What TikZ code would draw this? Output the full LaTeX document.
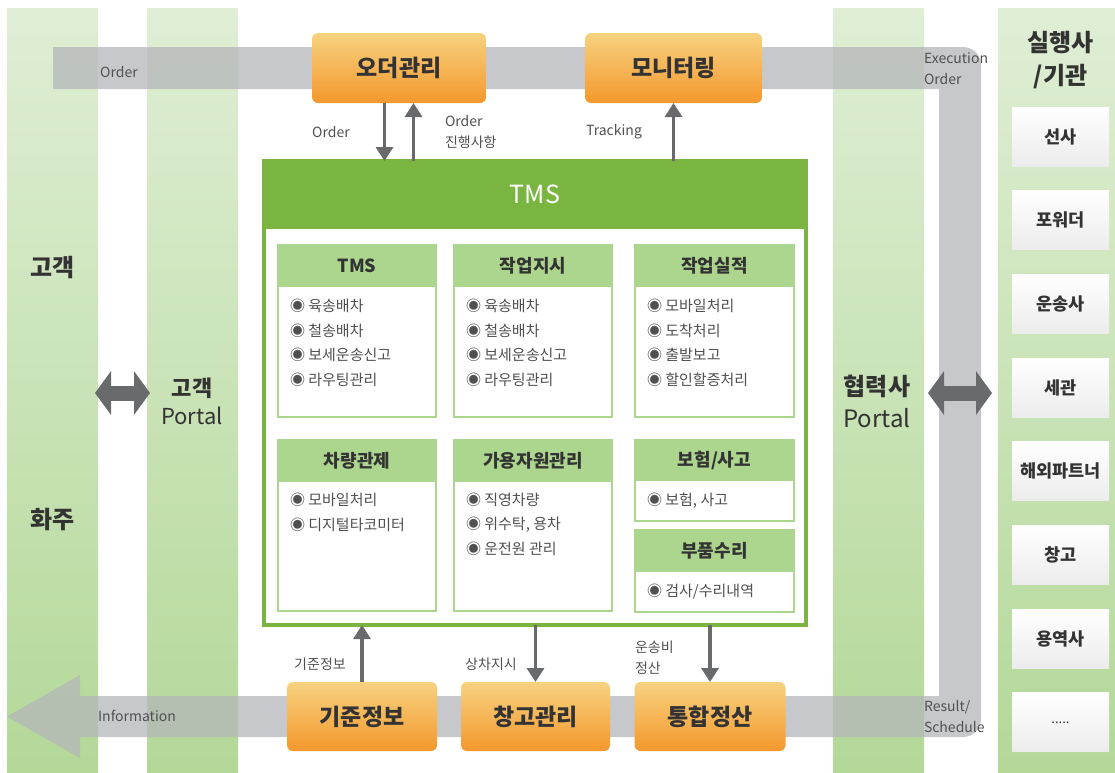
\documentclass[tikz,border=0pt]{standalone}
\usepackage{fontspec}
\setmainfont{Noto Sans CJK KR}
\usetikzlibrary{arrows.meta}
\definecolor{colT}{RGB}{223,238,213}
\definecolor{colB}{RGB}{179,216,152}
\definecolor{tmsgreen}{RGB}{122,181,66}
\definecolor{lgreen}{RGB}{172,213,142}
\definecolor{bandgray}{RGB}{180,182,185}
\definecolor{orT}{RGB}{247,210,128}
\definecolor{orB}{RGB}{244,152,45}
\definecolor{arrgray}{RGB}{105,106,108}
\definecolor{txtdark}{RGB}{51,51,51}
\definecolor{txtgray}{RGB}{80,80,80}
\definecolor{boxB}{RGB}{236,236,236}
\tikzset{
 every node/.style={outer sep=0pt},
 colbar/.style={anchor=north west, inner sep=0, top color=colT, bottom color=colB, draw=none, minimum height=765pt},
 obox/.style={rounded corners=6pt, top color=orT, bottom color=orB, inner sep=0, text=txtdark, font=\fontsize{23}{26}\selectfont\bfseries, minimum height=69pt},
 arr/.style={draw=arrgray, line width=3.3pt, -{Triangle[length=14pt,width=17pt]}},
 dbl/.style={draw=arrgray, line width=15pt, {Triangle[length=16pt,width=43pt]}-{Triangle[length=16pt,width=43pt]}},
 lbl/.style={inner sep=0, text=txtgray, font=\fontsize{14}{21}\selectfont, align=left},
 ihead/.style={anchor=north west, inner sep=0, fill=lgreen, text=txtdark, font=\fontsize{18}{20}\selectfont\bfseries, minimum height=43pt},
 ibody/.style={anchor=north west, inner sep=0, fill=white, draw=lgreen, line width=2.5pt},
 item/.style={anchor=west, inner sep=0, text=txtgray, font=\fontsize{15}{18}\selectfont},
 pbox/.style={inner sep=0, top color=white, bottom color=boxB, minimum width=97pt, minimum height=59pt, text=txtdark, font=\fontsize{17.5}{20}\selectfont\bfseries},
 big/.style={inner sep=0, text=txtdark, font=\fontsize{24}{33}\selectfont\bfseries, align=center},
}
\newcommand{\itemsat}[4]{\foreach \t [count=\i] in {#4} {\node[item] (#1-\i) at ({#2},{#3+24.5*(\i-1)}) {◉ \t};}}
\begin{document}
\begin{tikzpicture}[x=1pt,y=-1pt]
\useasboundingbox (0,0) rectangle (1115,772);
% columns
\node[colbar, minimum width=91pt] (col1) at (7,8) {};
\node[colbar, minimum width=91pt] (col2) at (147,8) {};
\node[colbar, minimum width=91pt] (col3) at (833,8) {};
\node[colbar, minimum width=117pt] (col4) at (998,8) {};
% gray band
\fill[bandgray, opacity=0.75] (53,47) -- (963,47) .. controls (973,47) and (981,55) .. (981,65)
  -- (981,719) .. controls (981,729) and (973,737) .. (963,737) -- (80,737) -- (80,758) -- (7,716.5)
  -- (80,675) -- (80,696) -- (939,696) -- (939,89) -- (53,89) -- cycle;
% band labels
\node[lbl] (lbandorder) at (119,72) {Order};
\node[lbl, anchor=west] (lexec) at (924,69) {Execution\\Order};
\node[lbl] (linfo) at (137,716) {Information};
\node[lbl, anchor=west] (lres) at (924,717) {Result/\\Schedule};
% big labels
\node[big] (gk) at (52.5,268) {고객};
\node[big] (hj) at (52.5,520) {화주};
\node[inner sep=0, align=center, text=txtdark, font=\fontsize{22}{28}\selectfont] (cportal) at (192,401) {\textbf{고객}\\Portal};
\node[inner sep=0, align=center, text=txtdark, font=\fontsize{24}{32}\selectfont] (pportal) at (877,401) {\textbf{협력사}\\Portal};
\node[big] (exe) at (1060.5,60.5) {실행사\\/기관};
% partner boxes
\foreach \t [count=\i] in {선사,포워더,운송사,세관,해외파트너,창고,용역사}
  {\node[pbox] (p\i) at (1060.5,{136.5+83.7*(\i-1)}) {\t};}
\node[pbox, font=\fontsize{13}{16}\selectfont] (p8) at (1060.5,{136.5+83.7*7}) {.....};
% TMS frame
\node[draw=tmsgreen, line width=4pt, fill=white, minimum width=542pt, minimum height=464pt, inner sep=0] (tms) at (535,393) {};
\node[anchor=north west, fill=tmsgreen, minimum width=546pt, minimum height=70pt, inner sep=0, text=white, font=\fontsize{25}{28}\selectfont] (tmshead) at (262,159) {TMS};
% inner boxes row 1
\node[ibody, minimum width=158pt, minimum height=131pt] (b1) at (278,286) {};
\node[ihead, minimum width=160pt] (h1) at (277,244) {TMS};
\node[ibody, minimum width=158pt, minimum height=131pt] (b2) at (454,286) {};
\node[ihead, minimum width=160pt] (h2) at (453,244) {작업지시};
\node[ibody, minimum width=159pt, minimum height=131pt] (b3) at (635,286) {};
\node[ihead, minimum width=161pt] (h3) at (634,244) {작업실적};
% row 2
\node[ibody, minimum width=158pt, minimum height=131pt] (b4) at (278,480) {};
\node[ihead, minimum width=160pt] (h4) at (277,439) {차량관제};
\node[ibody, minimum width=158pt, minimum height=131pt] (b5) at (454,480) {};
\node[ihead, minimum width=160pt] (h5) at (453,439) {가용자원관리};
\node[ibody, minimum width=159pt, minimum height=41pt] (b6) at (635,480) {};
\node[ihead, minimum width=161pt, minimum height=42pt] (h6) at (634,439) {보험/사고};
\node[ibody, minimum width=159pt, minimum height=41pt] (b7) at (635,571) {};
\node[ihead, minimum width=161pt, minimum height=43pt] (h7) at (634,529) {부품수리};
% items
\itemsat{i1}{290}{306}{육송배차,철송배차,보세운송신고,라우팅관리}
\itemsat{i2}{466}{306}{육송배차,철송배차,보세운송신고,라우팅관리}
\itemsat{i3}{647}{306}{모바일처리,도착처리,출발보고,할인할증처리}
\itemsat{i4}{290}{500}{모바일처리,디지털타코미터}
\itemsat{i5}{466}{500}{직영차량,{위수탁, 용차},운전원 관리}
\itemsat{i6}{647}{501}{{보험, 사고}}
\itemsat{i7}{647}{592}{검사/수리내역}
% orange boxes
\node[obox, minimum width=174pt, minimum height=70pt] (oder) at (399,68) {오더관리};
\node[obox, minimum width=177pt, minimum height=70pt] (mon) at (673.5,68) {모니터링};
\node[obox, minimum width=150pt] (gijun) at (362,716.5) {기준정보};
\node[obox, minimum width=149pt] (chang) at (535.5,716.5) {창고관리};
\node[obox, minimum width=151pt] (tong) at (710,716.5) {통합정산};
% arrows
\draw[arr] ([xshift=-14.5pt]oder.south) -- ([xshift=-14.5pt]oder.south |- tms.north);
\draw[arr] ([xshift=14.5pt]oder.south |- tms.north) -- ([xshift=14.5pt]oder.south);
\draw[arr] (mon.south |- tms.north) -- (mon.south);
\draw[arr] (gijun.north) -- (gijun.north |- tms.south);
\draw[arr] (chang.north |- tms.south) -- (chang.north);
\draw[arr] (tong.north |- tms.south) -- (tong.north);
% arrow labels
\node[lbl] (lorder) at (331,132) {Order};
\node[lbl, anchor=west] (lprog) at (445,132) {Order\\진행사항};
\node[lbl] (ltrack) at (614,132) {Tracking};
\node[lbl] (lgijun) at (320,664) {기준정보};
\node[lbl] (lsang) at (491,664) {상차지시};
\node[lbl, anchor=west] (lfee) at (635,658) {운송비\\정산};
% double arrows
\draw[dbl] ([xshift=-3pt]col1.east |- tms.center) -- ([xshift=3pt]col2.west |- tms.center);
\draw[dbl] ([xshift=4pt]col3.east |- tms.center) -- ([xshift=-6pt]col4.west |- tms.center);
\end{tikzpicture}
\end{document}
